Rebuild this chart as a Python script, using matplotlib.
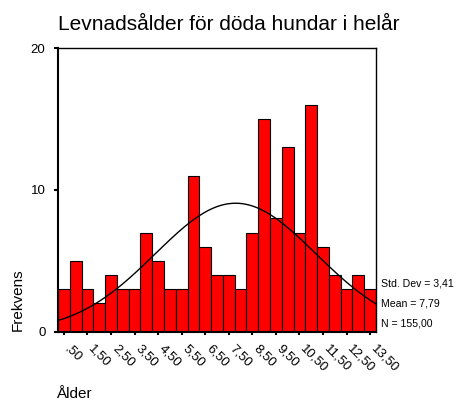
import numpy as np
import matplotlib
matplotlib.use("Agg")
import matplotlib.pyplot as plt
from matplotlib.transforms import ScaledTranslation

plt.rcParams['font.family'] = ['Liberation Sans', 'DejaVu Sans']

bin_centers = [0.5, 1.0, 1.5, 2.0, 2.5, 3.0, 3.5, 4.0, 4.5, 5.0, 5.5, 6.0, 6.5, 7.0,
               7.5, 8.0, 8.5, 9.0, 9.5, 10.0, 10.5, 11.0, 11.5, 12.0, 12.5, 13.0, 13.5]
counts = [3, 5, 3, 2, 4, 3, 3, 7, 5, 3, 3, 11, 6, 4,
          4, 3, 7, 15, 8, 13, 7, 16, 6, 4, 3, 4, 3]
tick_values = [0.5, 1.5, 2.5, 3.5, 4.5, 5.5, 6.5, 7.5, 8.5, 9.5, 10.5, 11.5, 12.5, 13.5]
tick_labels = [",50", "1,50", "2,50", "3,50", "4,50", "5,50", "6,50", "7,50",
               "8,50", "9,50", "10,50", "11,50", "12,50", "13,50"]
mean = 7.79
std = 3.41
n = 155
bin_width = 0.5

fig = plt.figure(figsize=(4.59, 4.01), dpi=100)
ax = fig.add_axes([58/459, 1 - 331.7/401, (376 - 58)/459, (331.7 - 48.3)/401])

ax.bar(bin_centers, counts, width=bin_width, color='#ff0000', edgecolor='black', linewidth=0.8)

xs = np.linspace(0.25, 13.75, 300)
ys = n * bin_width * np.exp(-0.5 * ((xs - mean) / std) ** 2) / (std * np.sqrt(2 * np.pi))
ax.plot(xs, ys, color='black', linewidth=1.0)

ax.set_xlim(0.25, 13.75)
ax.set_ylim(0, 20)
ax.set_yticks([0, 10, 20])
ax.set_yticklabels(["0", "10", "20"], fontsize=9.5)
ax.set_xticks(tick_values)
ax.set_xticklabels(tick_labels, fontsize=9.5, rotation=-45, ha='left', va='center',
                   rotation_mode='anchor')
ax.tick_params(axis='both', direction='out', length=3, width=1.5, pad=6)
ax.tick_params(axis='x', length=2, pad=9)
offset = ScaledTranslation(3/100, 0, fig.dpi_scale_trans)
for lab in ax.get_xticklabels():
    lab.set_transform(lab.get_transform() + offset)
for s in ax.spines.values():
    s.set_linewidth(1.0)
ax.spines['left'].set_linewidth(1.5)
ax.spines['bottom'].set_linewidth(1.5)

fig.text(58/459, 1 - 24/401, "Levnadsålder för döda hundar i helår", fontsize=15,
         ha='left', va='center')
fig.text(18/459, 1 - 300/401, "Frekvens", fontsize=11, rotation=90, ha='center', va='center')
fig.text(56/459, 1 - 394/401, "Ålder", fontsize=11, ha='left', va='center')

stats = ["Std. Dev = 3,41", "Mean = 7,79", "N = 155,00"]
for i, t in enumerate(stats):
    fig.text(381/459, 1 - (284 + 19.5 * i)/401, t, fontsize=7.6, ha='left', va='center')

fig.savefig("out.png", dpi=100)
